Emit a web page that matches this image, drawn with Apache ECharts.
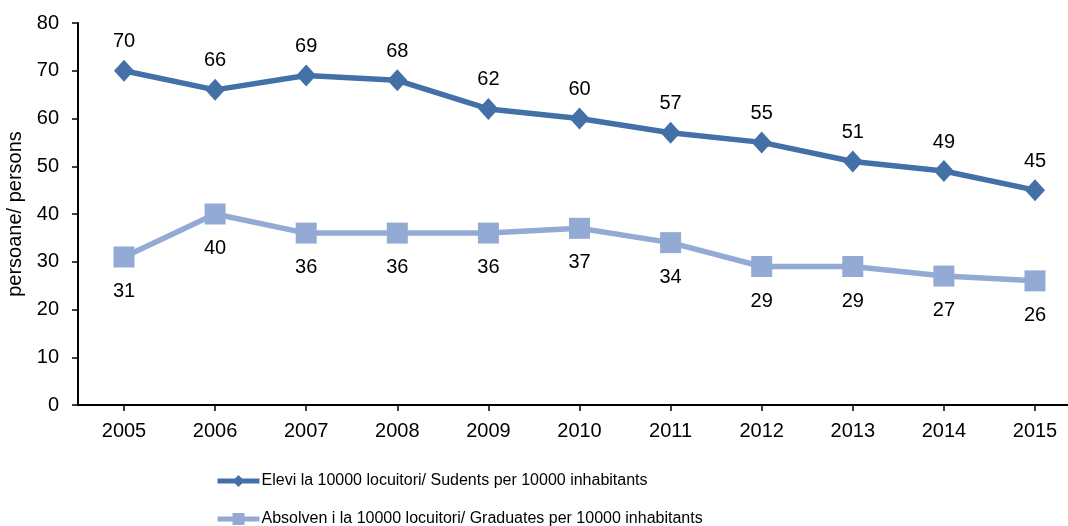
<!DOCTYPE html>
<html><head><meta charset="utf-8">
<script src="https://cdn.jsdelivr.net/npm/echarts@6/dist/echarts.min.js"></script>
<style>html,body{margin:0;padding:0;background:#fff}#c{width:1068px;height:526px}</style>
</head><body><div id="c"></div>
<script>
const years = ['2005','2006','2007','2008','2009','2010','2011','2012','2013','2014','2015'];
const students = [70,66,69,68,62,60,57,55,51,49,45];
const graduates = [31,40,36,36,36,37,34,29,29,27,26];
const name1 = 'Elevi la 10000 locuitori/ Sudents per 10000 inhabitants';
const name2 = 'Absolven i la 10000 locuitori/ Graduates per 10000 inhabitants';
const font = 'Liberation Sans, Arial, sans-serif';
const c1 = '#4470A8', c2 = '#93AAD4';
const chart = echarts.init(document.getElementById('c'), null, {renderer:'canvas'});
const legendText = {fontFamily:font, fontSize:16, color:'#000', padding:[0,0,0,-3]};
chart.setOption({
  animation:false,
  textStyle:{fontFamily:font},
  grid:[
    {left:78, right:0, top:23, bottom:121, outerBoundsMode:'none', containLabel:false},
    {left:124, right:33, top:23, bottom:121, outerBoundsMode:'none', containLabel:false}
  ],
  legend:[
    {left:210, top:468, itemWidth:42, itemHeight:15, itemGap:0, textStyle:legendText,
     lineStyle:{width:5}, data:[name1]},
    {left:210, top:506, itemWidth:42, itemHeight:15, itemGap:0, textStyle:legendText,
     lineStyle:{width:5}, data:[name2]}
  ],
  xAxis:[
    {gridIndex:0, type:'value', min:0, max:1,
     axisLine:{show:true, lineStyle:{color:'#000', width:2}},
     axisTick:{show:false}, axisLabel:{show:false}, splitLine:{show:false}},
    {gridIndex:1, type:'category', data:years, boundaryGap:false,
     axisLine:{show:false},
     axisTick:{show:true, alignWithLabel:true, length:6, lineStyle:{color:'#000', width:1.5}},
     axisLabel:{color:'#000', fontSize:20, margin:16, fontFamily:font}}
  ],
  yAxis:[
    {gridIndex:0, type:'value', min:0, max:80, interval:10,
     name:'persoane/ persons', nameLocation:'middle', nameGap:47, nameRotate:90,
     nameTextStyle:{color:'#000', fontSize:20, fontFamily:font},
     axisLine:{show:true, lineStyle:{color:'#000', width:2}},
     axisTick:{show:true, length:6, lineStyle:{color:'#000', width:1.5}},
     splitLine:{show:false},
     axisLabel:{color:'#000', fontSize:20, margin:19, fontFamily:font}},
    {gridIndex:1, type:'value', min:0, max:80, interval:10, show:false, splitLine:{show:false}}
  ],
  series:[
    {name:name1, type:'line', xAxisIndex:1, yAxisIndex:1, data:students, symbol:'diamond', symbolSize:[20,22],
     lineStyle:{color:c1, width:5.5}, itemStyle:{color:c1},
     label:{show:true, position:'top', distance:8, color:'#000', fontSize:20, fontFamily:font}},
    {name:name2, type:'line', xAxisIndex:1, yAxisIndex:1, data:graduates, symbol:'rect', symbolSize:21,
     lineStyle:{color:c2, width:5.5}, itemStyle:{color:c2},
     label:{show:true, position:'bottom', distance:14, color:'#000', fontSize:20, fontFamily:font}}
  ]
});
</script></body></html>
